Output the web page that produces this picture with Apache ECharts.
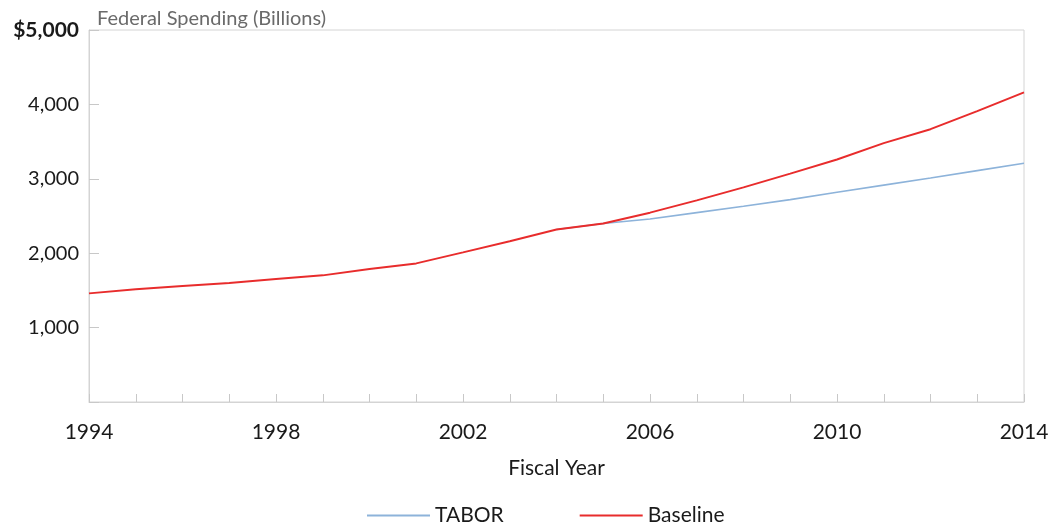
<!DOCTYPE html>
<html>
<head>
<meta charset="utf-8">
<script src="https://cdn.jsdelivr.net/npm/echarts@6/dist/echarts.min.js"></script>
<style>
html,body{margin:0;padding:0;background:#fff;}
#c{width:1053px;height:527px;}
</style>
</head>
<body>
<div id="c"></div>
<script>
const years = [1994,1995,1996,1997,1998,1999,2000,2001,2002,2003,2004,2005,2006,2007,2008,2009,2010,2011,2012,2013,2014];
const baseline = [1460,1515,1560,1601,1652,1702,1789,1863,2011,2160,2318,2400,2545,2710,2885,3070,3260,3480,3667,3910,4161];
const tabor = [null,null,null,null,null,null,null,null,null,null,2318,2400,2460,2545,2630,2720,2820,2915,3010,3110,3208];
const xTickLabels = ['1994','1998','2002','2006','2010','2014'];
const yTickLabels = {1000:'1,000',2000:'2,000',3000:'3,000',4000:'4,000',5000:'$5,000'};

const font = 'Lato, "Open Sans", sans-serif';
const pair = arr => years.map((y,i)=>[y,arr[i]]);

const chart = echarts.init(document.getElementById('c'));
chart.setOption({
  animation:false,
  backgroundColor:'#fff',
  title:{
    text:'Federal Spending (Billions)',
    left:92, top:4,
    textStyle:{fontFamily:font,fontSize:20,fontWeight:'normal',color:'#6a6a6a'}
  },
  grid:{left:89,right:29,top:30,bottom:125,show:true,borderColor:'#d4d4d4',borderWidth:1},
  legend:{
    bottom:-4, left:362,
    icon:'rect', itemWidth:63, itemHeight:2, itemGap:76,
    textStyle:{fontFamily:font,fontSize:21,color:'#1a1a1a'},
    data:['TABOR','Baseline']
  },
  xAxis:{
    type:'value', min:1994, max:2014, interval:4,
    name:'Fiscal Year', nameLocation:'middle', nameGap:56,
    nameTextStyle:{fontFamily:font,fontSize:21,color:'#1a1a1a'},
    axisLine:{lineStyle:{color:'#d4d4d4',width:1}},
    axisTick:{show:true,inside:true,length:8,lineStyle:{color:'#c8c8c8'}},
    minorTick:{show:true,splitNumber:4,length:8,lineStyle:{color:'#c8c8c8'}},
    splitLine:{show:false},
    axisLabel:{margin:20,fontFamily:font,fontSize:21,color:'#1a1a1a',
      formatter:v=>xTickLabels.indexOf(String(v))>=0?String(v):''}
  },
  yAxis:{
    type:'value', min:0, max:5000, interval:1000,
    axisLine:{show:true,lineStyle:{color:'#d4d4d4',width:1}},
    axisTick:{show:true,inside:true,length:10,lineStyle:{color:'#c8c8c8'}},
    splitLine:{show:false},
    axisLabel:{margin:10,fontFamily:font,fontSize:20,color:'#1a1a1a',
      formatter:v=>v===5000?'{b|'+yTickLabels[v]+'}':(yTickLabels[v]||''),
      rich:{b:{fontFamily:font,fontSize:21,fontWeight:'bold',color:'#1a1a1a'}}}
  },
  series:[
    {name:'TABOR',type:'line',data:pair(tabor),showSymbol:false,symbol:'none',
     lineStyle:{color:'#8db3da',width:1.6},itemStyle:{color:'#8db3da'},z:2},
    {name:'Baseline',type:'line',data:pair(baseline),showSymbol:false,symbol:'none',
     lineStyle:{color:'#e82c2c',width:2},itemStyle:{color:'#e82c2c'},z:3}
  ]
});
</script>
</body>
</html>
